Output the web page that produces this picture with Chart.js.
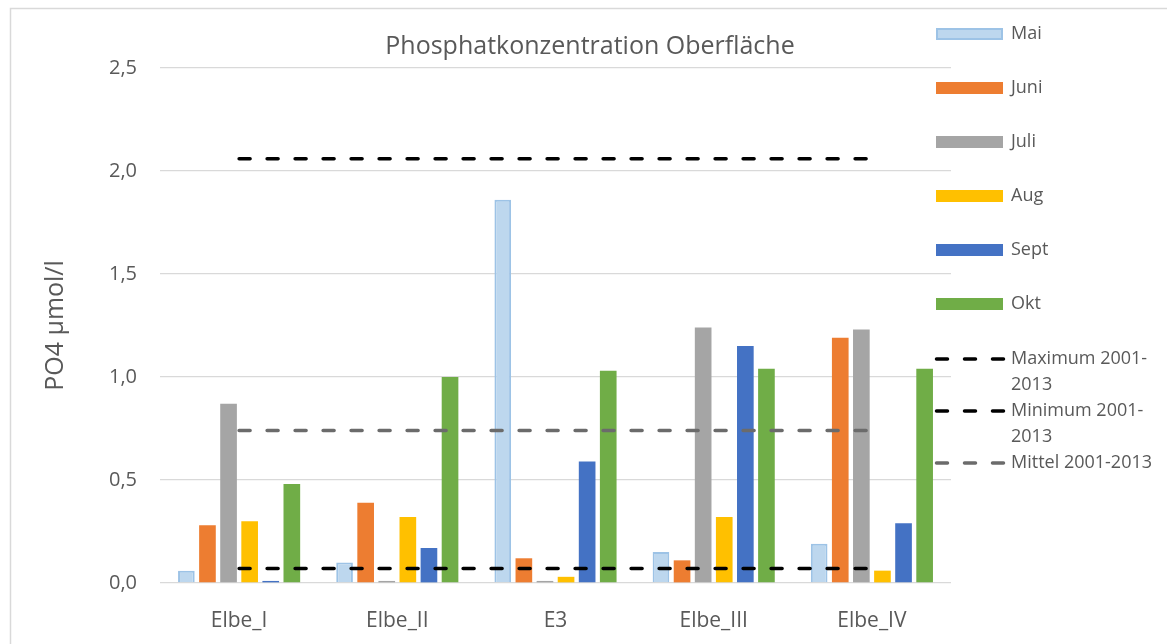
<!DOCTYPE html>
<html>
<head>
<meta charset="utf-8">
<script src="https://cdn.jsdelivr.net/npm/chart.js@4/dist/chart.umd.min.js"></script>
<style>
  html, body { margin: 0; padding: 0; background: #fff; }
  #wrap { width: 1167px; height: 644px; }
</style>
</head>
<body>
<div id="wrap"><canvas id="phosChart" width="1167" height="644"></canvas></div>
<script>
// Phosphate concentration at the surface, per station and month
const stations = ['Elbe_I', 'Elbe_II', 'E3', 'Elbe_III', 'Elbe_IV'];
const mai  = [0.06, 0.10, 1.86, 0.15, 0.19];
const juni = [0.28, 0.39, 0.12, 0.11, 1.19];
const juli = [0.87, 0.01, 0.01, 1.24, 1.23];
const aug  = [0.30, 0.32, 0.03, 0.32, 0.06];
const sept = [0.01, 0.17, 0.59, 1.15, 0.29];
const okt  = [0.48, 1.00, 1.03, 1.04, 1.04];

// long-term reference values 2001-2013
const maximum = [2.06, 2.06, 2.06, 2.06, 2.06];
const minimum = [0.07, 0.07, 0.07, 0.07, 0.07];
const mittel  = [0.74, 0.74, 0.74, 0.74, 0.74];

const yTicks = [0, 0.5, 1.0, 1.5, 2.0, 2.5];

const FONT = '"Open Sans", "Segoe UI", sans-serif';
const TEXT = '#595959';

function bar(label, data, color, border, bw) {
    return {
        type: 'bar', label: label, data: data, order: 1,
        backgroundColor: color, borderColor: border || color, borderWidth: bw || 0,
        categoryPercentage: 0.8, barPercentage: 0.79,
    };
}

function dashed(label, data, color) {
    return {
        type: 'line', label: label, data: data, order: 0,
        borderColor: color, borderWidth: 3.5, borderDash: [11, 17],
        borderCapStyle: 'round', pointRadius: 0, fill: false,
    };
}

// frame, title and the legend at the right
const decor = {
    id: 'decor',
    beforeDraw(chart) {
        const ctx = chart.ctx;
        ctx.save();
        ctx.fillStyle = '#fff';
        ctx.fillRect(0, 0, chart.width, chart.height);
        ctx.strokeStyle = '#d9d9d9';
        ctx.lineWidth = 1.5;
        ctx.strokeRect(10.5, 8.5, 1400, 900);
        ctx.restore();
    },
    afterDraw(chart) {
        const ctx = chart.ctx;
        ctx.save();
        ctx.fillStyle = TEXT;
        ctx.textBaseline = 'middle';
        ctx.textAlign = 'center';
        ctx.font = '25px ' + FONT;
        ctx.fillText('Phosphatkonzentration Oberfläche', 590, 47);

        ctx.textAlign = 'left';
        ctx.font = '18px ' + FONT;
        const sx = 936, sw = 67, tx = 1011, maxW = 150;
        let y = 34;
        chart.data.datasets.forEach((ds, i) => {
            if (ds.type === 'bar') {
                ctx.fillStyle = ds.backgroundColor;
                ctx.fillRect(sx, y - 6, sw, 12);
                if (ds.borderWidth) {
                    ctx.strokeStyle = ds.borderColor;
                    ctx.lineWidth = 2;
                    ctx.strokeRect(sx + 1, y - 5, sw - 2, 10);
                }
                ctx.fillStyle = TEXT;
                ctx.fillText(ds.label, tx, y);
                y += 54;
                if (i === 5) y += 1;
            } else {
                ctx.strokeStyle = ds.borderColor;
                ctx.lineWidth = 3.5;
                ctx.lineCap = 'round';
                ctx.setLineDash([11, 17]);
                ctx.beginPath();
                ctx.moveTo(sx + 0.5, y);
                ctx.lineTo(sx + sw + 1, y);
                ctx.stroke();
                ctx.setLineDash([]);
                // wrap after the hyphen when the label is too wide
                let lines = [ds.label];
                if (ctx.measureText(ds.label).width > maxW) {
                    const cut = ds.label.indexOf('-') + 1;
                    lines = [ds.label.slice(0, cut), ds.label.slice(cut)];
                }
                ctx.fillStyle = TEXT;
                lines.forEach((l, k) => ctx.fillText(l, tx, y + k * 26));
                y += lines.length * 26;
            }
        });
        ctx.restore();
    }
};

new Chart(document.getElementById('phosChart'), {
    data: {
        labels: stations,
        datasets: [
            bar('Mai', mai, '#bdd7ee', '#9dc3e6', 2),
            bar('Juni', juni, '#ed7d31'),
            bar('Juli', juli, '#a5a5a5'),
            bar('Aug', aug, '#ffc000'),
            bar('Sept', sept, '#4472c4'),
            bar('Okt', okt, '#70ad47'),
            dashed('Maximum 2001-2013', maximum, '#000000'),
            dashed('Minimum 2001-2013', minimum, '#000000'),
            dashed('Mittel 2001-2013', mittel, '#6b6b6b'),
        ]
    },
    options: {
        responsive: false,
        animation: false,
        layout: { padding: { left: 10, top: 68, right: 216, bottom: 0 } },
        plugins: {
            legend: { display: false },
            title: { display: false },
            tooltip: { enabled: false },
        },
        scales: {
            x: {
                grid: { display: false },
                border: { display: false },
                ticks: { color: TEXT, font: { size: 21, family: FONT }, padding: 17 },
                afterFit: s => { s.height = 61; },
            },
            y: {
                min: 0,
                max: 2.5,
                afterBuildTicks: s => { s.ticks = yTicks.map(v => ({ value: v })); },
                grid: { color: '#d9d9d9', lineWidth: 1.3, drawTicks: false },
                border: { display: false },
                ticks: {
                    color: TEXT,
                    font: { size: 20, family: FONT },
                    padding: 23,
                    callback: v => v.toFixed(1).replace('.', ','),
                },
                title: {
                    display: true,
                    text: 'PO4 µmol/l',
                    color: TEXT,
                    font: { size: 25, family: FONT },
                    padding: { top: 31, bottom: 0 },
                },
                afterFit: s => { s.width = 150; },
            }
        }
    },
    plugins: [decor]
});
</script>
</body>
</html>
